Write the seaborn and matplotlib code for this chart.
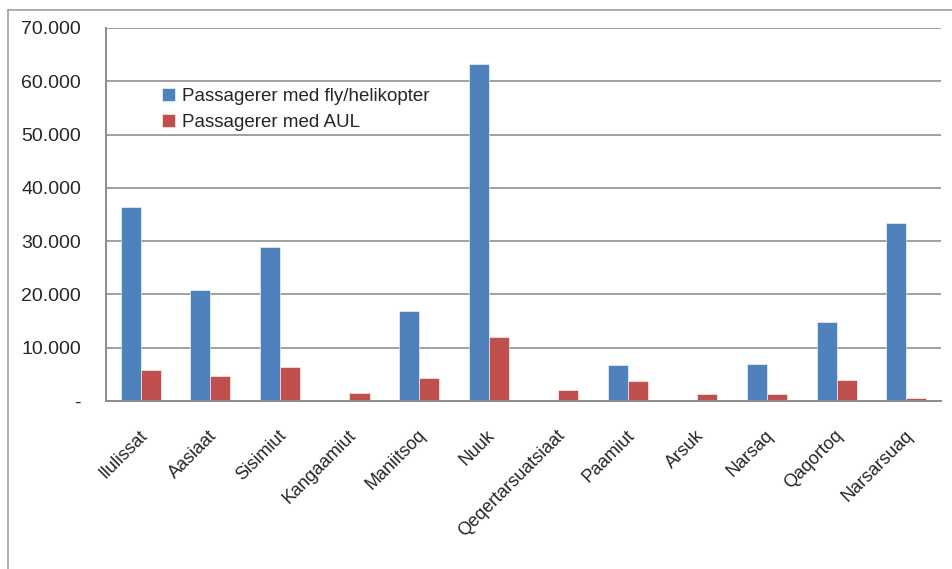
import pandas as pd
import matplotlib
matplotlib.use("Agg")
import matplotlib.pyplot as plt
import matplotlib.ticker as mticker
import matplotlib.transforms as mtransforms
from matplotlib.lines import Line2D
import seaborn as sns

# Data
byer = ["Ilulissat", "Aasiaat", "Sisimiut", "Kangaamiut", "Maniitsoq", "Nuuk",
        "Qeqertarsuatsiaat", "Paamiut", "Arsuk", "Narsaq", "Qaqortoq", "Narsarsuaq"]
fly = [36400, 20800, 28900, 0, 16800, 63300, 0, 6700, 0, 6900, 14800, 33400]
aul = [5800, 4700, 6400, 1500, 4400, 12100, 2100, 3750, 1250, 1250, 4000, 500]

serie_fly = "Passagerer med fly/helikopter"
serie_aul = "Passagerer med AUL"

df = pd.DataFrame({"By": byer * 2,
                   "Passagerer": fly + aul,
                   "Serie": [serie_fly] * len(byer) + [serie_aul] * len(byer)})

sns.set_style("white")
plt.rcParams["font.family"] = ["Liberation Sans", "DejaVu Sans"]

fig = plt.figure(figsize=(9.52, 5.69), dpi=100)
ax = fig.add_axes([0.1113, 0.2953, 0.8771, 0.6555])

sns.barplot(data=df, x="By", y="Passagerer", hue="Serie", order=byer,
            palette=["#4F81BD", "#C0504D"], width=0.575, ax=ax,
            edgecolor="white", linewidth=0.4, saturation=1)

ax.set_ylim(0, 70000)
ax.set_xlim(-0.5, len(byer) - 0.5)
ax.yaxis.set_major_locator(mticker.MultipleLocator(10000))
ax.yaxis.set_major_formatter(mticker.FuncFormatter(
    lambda v, p: "-" if v == 0 else f"{int(v):,}".replace(",", ".")))
ax.grid(axis="y", color="#A0A0A0", linewidth=1.4)
ax.set_axisbelow(True)

for s in ["top", "right"]:
    ax.spines[s].set_visible(False)
for s in ["left", "bottom"]:
    ax.spines[s].set_color("#8C8C8C")
    ax.spines[s].set_linewidth(1.4)

ax.set_xlabel("")
ax.set_ylabel("")
ax.tick_params(axis="y", length=5, color="#8C8C8C", width=1.2, labelsize=14, pad=13)
ax.tick_params(axis="x", which="major", length=0, labelsize=13)
ax.set_xticks([i - 0.5 for i in range(len(byer) + 1)], minor=True)
ax.tick_params(axis="x", which="minor", length=5, color="#8C8C8C", width=1.2)

offset = mtransforms.ScaledTranslation(0.04, -0.27, fig.dpi_scale_trans)
for lab in ax.get_xticklabels():
    lab.set_rotation(45)
    lab.set_ha("right")
    lab.set_va("center")
    lab.set_rotation_mode("anchor")
    lab.set_transform(lab.get_transform() + offset)

ax.legend(loc="upper left", bbox_to_anchor=(0.047, 0.885), frameon=False,
          fontsize=13.5, handlelength=0.7, handleheight=0.7,
          handletextpad=0.35, labelspacing=0.5, title=None)

# chart area border (Excel style)
fig.add_artist(Line2D([8 / 952, 8 / 952], [0, 1 - 10 / 569], color="#A0A0A0", linewidth=1.2))
fig.add_artist(Line2D([8 / 952, 1], [1 - 10 / 569, 1 - 10 / 569], color="#A0A0A0", linewidth=1.2))

fig.savefig("out.png", dpi=100)
